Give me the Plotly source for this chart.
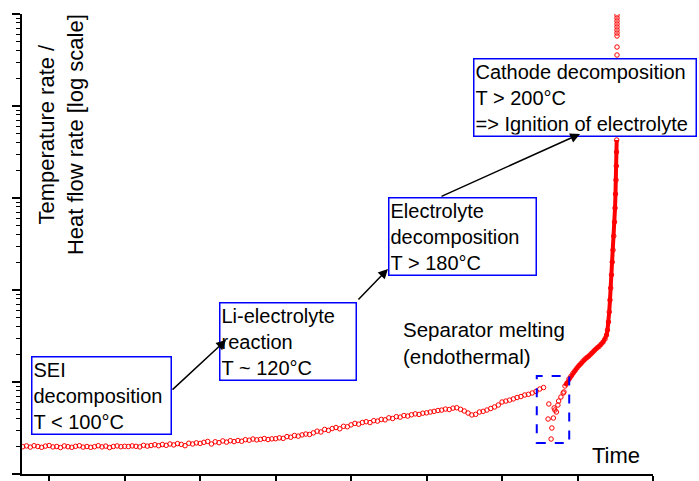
import plotly.graph_objects as go

# ---------------- data (time in arbitrary minutes, rate in arbitrary units, log scale) -------------
time_ramp = [-3.5, -3.0, -2.5, -2.0, -1.5, -1.0, -0.5,
             0.0, 0.5, 1.0, 1.5, 2.0, 2.5, 3.0, 3.5, 4.0, 4.5,
             5.0, 5.5, 6.0, 6.5, 7.0, 7.5, 8.0, 8.5, 9.0, 9.5,
             10.0, 10.5, 11.0, 11.5, 12.0, 12.5, 13.0, 13.5, 14.0, 14.5,
             15.0, 15.5, 16.0, 16.5, 17.0, 17.5, 18.0, 18.5, 19.0, 19.5,
             20.0, 20.5, 21.0, 21.5, 22.0, 22.5, 23.0, 23.5, 24.0, 24.5,
             25.0, 25.5, 26.0, 26.5, 27.0, 27.5, 28.0, 28.5, 29.0, 29.5,
             30.0, 30.5, 31.0, 31.5, 32.0, 32.5, 33.0, 33.5, 34.0, 34.5,
             35.0, 35.5, 36.0, 36.5, 37.0, 37.5, 38.0, 38.5, 39.0, 39.5,
             40.0, 40.5, 41.0, 41.5, 42.0, 42.5, 43.0, 43.5, 44.0, 44.5,
             45.0, 45.5, 46.0, 46.5, 47.0, 47.5, 48.0, 48.5, 49.0, 49.5,
             50.0, 50.5, 51.0, 51.5, 52.0, 52.5, 53.0, 53.5, 54.0, 54.5,
             55.0, 55.5, 56.0, 56.5, 57.0, 57.5, 58.0, 58.5, 59.0, 59.5,
             60.0, 60.5, 61.0, 61.5, 62.0, 62.5, 63.0, 63.5, 64.0, 64.5,
             65.0, 65.5]
rate_ramp = [1.98, 2.02, 1.96, 2.03, 1.99, 1.95, 2.01,
             2.04, 1.97, 1.99, 1.94, 2.02, 1.98, 1.95, 2.00, 2.03, 1.96,
             1.99, 1.95, 1.98, 2.03, 1.97, 2.01, 1.94, 1.99, 2.02, 1.98,
             2.00, 1.99, 2.02, 2.00, 1.97, 2.05, 2.01, 2.04, 2.08, 2.03,
             2.09, 2.05, 2.12, 2.07, 2.14, 2.10, 2.03, 2.16, 2.12, 2.18,
             2.15, 2.21, 2.26, 2.12, 2.24, 2.19, 2.29, 2.22, 2.30, 2.25,
             2.31, 2.27, 2.36, 2.33, 2.40, 2.35, 2.38, 2.43, 2.37, 2.41,
             2.42, 2.47, 2.44, 2.55, 2.51, 2.62, 2.58, 2.66, 2.72, 2.69,
             2.80, 2.92, 2.86, 3.05, 2.98, 3.12, 3.20, 3.10, 3.30, 3.26,
             3.42, 3.55, 3.48, 3.63, 3.70, 3.62, 3.80, 3.76, 3.92, 3.88,
             4.08, 4.01, 4.20, 4.15, 4.32, 4.26, 4.40, 4.50, 4.44, 4.58,
             4.62, 4.72, 4.80, 4.90, 4.95, 5.08, 5.02, 5.20, 5.25, 5.05,
             4.84, 4.60, 4.38, 4.45, 4.72, 4.80, 4.96, 5.15, 5.35, 5.62,
             6.06, 6.20, 6.35, 6.55, 6.79, 6.95, 7.22, 7.35, 7.60, 7.90,
             8.39, 8.71]

time_separator = [66.1, 66.2, 66.5, 66.6, 66.8, 66.9, 67.0, 67.2, 67.4, 67.5, 67.8, 68.1, 68.2]
rate_separator = [3.96, 5.77, 2.40, 3.16, 4.06, 5.22, 4.96, 4.72, 5.62, 6.21, 6.87, 7.59, 7.79]

time_runaway = [68.34, 68.6, 68.87, 69.14, 69.4, 69.67, 69.93, 70.2, 70.46, 70.73,
                71.0, 71.26, 71.52, 71.79, 72.05, 72.3, 72.58, 72.85, 73.1, 73.38,
                73.64, 73.84, 73.97, 74.1, 74.2, 74.3, 74.4, 74.5, 74.6, 74.7,
                74.8, 74.9, 74.97, 75.03, 75.1, 75.14, 75.17, 75.19]
rate_runaway = [9.05, 9.75, 10.8, 11.6, 12.5, 13.3, 14.2, 15.1, 15.9, 16.9,
                17.8, 18.5, 19.2, 20.2, 21.2, 22.3, 23.4, 24.3, 25.6, 27.2,
                29.3, 32.4, 36.7, 44.9, 57.7, 77.8, 105, 146, 201, 272,
                386, 548, 778, 1105, 1570, 2228, 3162, 4270]

time_ignition = [75.23, 75.23, 75.23, 75.23, 75.23, 75.23, 75.23, 75.23,
                 75.23, 75.23, 75.23, 75.23, 75.23, 75.23, 75.23, 75.23]
rate_ignition = [5480, 9060, 13840, 19180, 24600, 30060, 35810, 43750,
                 57700, 62100, 67000, 72300, 77900, 84000, 90500, 97500]

x_ticks = [0, 10, 20, 30, 40, 50, 60, 70, 80]
x_range = [-3.6, 80]
y_log_range = [0, 5]

# dashed box around separator melting region (time, rate)
sep_box_time = [64.6, 68.9]
sep_box_rate = [2.17, 11.6]

RED = "#ff0000"
BLUE = "#0000ff"
FONT = "Liberation Sans, Arial, sans-serif"

marker_style = dict(symbol="circle-open", size=4.5, color=RED, line=dict(width=1, color=RED))

fig = go.Figure()
fig.add_trace(go.Scatter(x=time_ramp, y=rate_ramp, mode="markers", marker=marker_style, showlegend=False))
fig.add_trace(go.Scatter(x=time_separator, y=rate_separator, mode="markers", marker=marker_style, showlegend=False))
fig.add_trace(go.Scatter(x=time_runaway, y=rate_runaway, mode="lines+markers", marker=marker_style,
                         line=dict(color=RED, width=4), showlegend=False))
fig.add_trace(go.Scatter(x=time_ignition, y=rate_ignition, mode="markers", marker=marker_style, showlegend=False))

fig.add_shape(type="rect", xref="x", yref="y",
              x0=sep_box_time[0], x1=sep_box_time[1], y0=sep_box_rate[0], y1=sep_box_rate[1],
              line=dict(color=BLUE, width=2, dash="dash"))

box_style = dict(xref="paper", yref="paper", xanchor="left", yanchor="top", align="left",
                 showarrow=False, bordercolor=BLUE, borderwidth=1.5, borderpad=1, bgcolor="white",
                 font=dict(family=FONT, size=20, color="black"))

fig.add_annotation(text="SEI<br>decomposition<br>T < 100°C", x=0.0143, y=0.2565, width=136, **box_style)
fig.add_annotation(text="Li-electrolyte<br>reaction<br>T ~ 120°C", x=0.3122, y=0.3739, width=133, **box_style)
fig.add_annotation(text="Electrolyte<br>decomposition<br>T > 180°C", x=0.5800, y=0.6022, width=144, **box_style)
fig.add_annotation(text="Cathode decomposition<br>T > 200°C<br>=> Ignition of electrolyte",
                   x=0.7147, y=0.9043, width=219, **box_style)

arrow_style = dict(xref="paper", yref="paper", axref="pixel", ayref="pixel", text="", showarrow=True,
                   arrowhead=2, arrowsize=1.3, arrowwidth=1.5, arrowcolor="black", standoff=0, startstandoff=0)
fig.add_annotation(x=0.3233, y=0.2913, ax=-55, ay=51, **arrow_style)
fig.add_annotation(x=0.5800, y=0.4457, ax=-31, ay=32, **arrow_style)
fig.add_annotation(x=0.8843, y=0.7391, ax=-140, ay=63, **arrow_style)

fig.add_annotation(text="Separator melting<br>(endothermal)", xref="paper", yref="paper",
                   x=0.6, y=0.3435, xanchor="left", yanchor="top", align="left", showarrow=False,
                   font=dict(family=FONT, size=20.5, color="black"))
fig.add_annotation(text="Time", xref="paper", yref="paper", x=0.941, y=0.04, xanchor="center",
                   yanchor="middle", showarrow=False, font=dict(family=FONT, size=22, color="black"))
fig.add_annotation(text="Temperature rate /<br>Heat flow rate [log scale]", xref="paper", yref="paper",
                   x=0.062, y=0.737, xanchor="center", yanchor="middle", textangle=-90, showarrow=False,
                   font=dict(family=FONT, size=22, color="black"))

fig.update_layout(
    width=699, height=481,
    margin=dict(l=22, r=46, t=14, b=7, autoexpand=False),
    paper_bgcolor="white", plot_bgcolor="white",
    font=dict(family=FONT, color="black"),
    xaxis=dict(range=x_range, tickmode="array", tickvals=x_ticks, ticks="outside", ticklen=8, tickwidth=1.5,
               tickcolor="black", showticklabels=False, showline=True, linecolor="black", linewidth=1.5,
               showgrid=False, zeroline=False, automargin=False),
    yaxis=dict(type="log", range=y_log_range, dtick=1, ticks="outside", ticklen=8, tickwidth=1.5,
               tickcolor="black", showticklabels=False, showline=True, linecolor="black", linewidth=1.5,
               showgrid=False, zeroline=False, automargin=False,
               minor=dict(ticks="outside", ticklen=4, tickwidth=1, tickcolor="black", dtick="D1", showgrid=False)),
)

fig.write_html("out.html", config={"displayModeBar": False},
               post_script="document.body.style.margin='0';document.body.style.overflow='hidden';")
